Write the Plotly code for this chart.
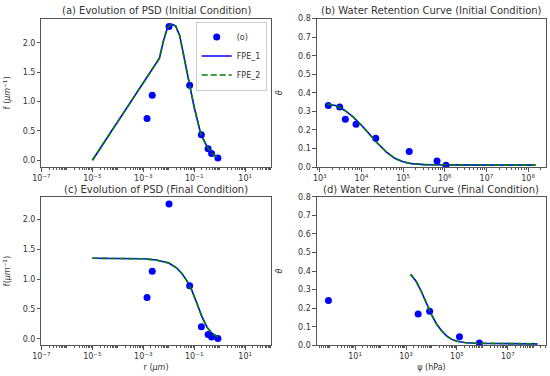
import plotly.graph_objects as go

# ---------------- data ----------------
# PSD observed points (r in micrometres)
r_obs = [1.4e-3, 2.24e-3, 1.02e-2, 0.066, 0.19, 0.35, 0.48, 0.85]
f_obs_init = [0.71, 1.11, 2.28, 1.28, 0.435, 0.195, 0.117, 0.04]
f_obs_final = [0.69, 1.13, 2.26, 0.89, 0.20, 0.07, 0.03, 0.005]

# PSD fitted curves (FPE_1 and FPE_2 coincide)
r_fit_init = [1e-5, 4.3e-3, 6.2e-3, 8.9e-3, 1.29e-2, 1.86e-2, 2.7e-2, 4.2e-2,
              6.6e-2, 0.10, 0.18, 0.32, 0.50, 0.85]
f_fit_init = [0.0, 1.74, 2.04, 2.26, 2.32, 2.29, 2.12, 1.73,
              1.28, 0.90, 0.45, 0.23, 0.12, 0.04]

r_fit_final = [1e-5, 1e-4, 1e-3, 3.2e-3, 1e-2, 2e-2, 3.2e-2, 5e-2,
               7.9e-2, 0.126, 0.2, 0.32, 0.5, 0.85]
f_fit_final = [1.35, 1.345, 1.34, 1.32, 1.27, 1.19, 1.10, 0.98,
               0.82, 0.60, 0.37, 0.19, 0.09, 0.03]

# Water retention observed points (psi in hPa)
psi_obs_init = [1.6e3, 3.0e3, 4.1e3, 7.4e3, 2.2e4, 1.4e5, 6.5e5, 1.07e6]
theta_obs_init = [0.332, 0.324, 0.258, 0.230, 0.155, 0.083, 0.032, 0.009]

psi_obs_final = [0.9, 3.0e3, 8.5e3, 1.26e5, 7.6e5]
theta_obs_final = [0.241, 0.169, 0.183, 0.046, 0.012]

# Water retention fitted curves
psi_fit_init = [1.5e3, 2.5e3, 4e3, 6.3e3, 1e4, 1.58e4, 2.5e4, 4e4, 6.3e4,
                1e5, 1.58e5, 3.2e5, 1e6, 1e7, 1.5e8]
theta_fit_init = [0.340, 0.330, 0.305, 0.270, 0.225, 0.175, 0.125, 0.080, 0.047,
                  0.028, 0.018, 0.013, 0.011, 0.010, 0.010]

psi_fit_final = [1.5e3, 2.5e3, 4e3, 6.3e3, 1e4, 1.58e4, 2.5e4, 4e4, 6.3e4,
                 1e5, 2e5, 5e5, 3.2e6, 1.45e8]
theta_fit_final = [0.383, 0.345, 0.290, 0.225, 0.165, 0.115, 0.078, 0.050, 0.032,
                   0.022, 0.015, 0.011, 0.009, 0.008]

# tick labels
psd_tick_exp = [-7, -5, -3, -1, 1]
wrc_init_tick_exp = [3, 4, 5, 6, 7, 8]
wrc_final_tick_exp = [1, 3, 5, 7]
f_ticks = [0.0, 0.5, 1.0, 1.5, 2.0]
theta_ticks = [0.0, 0.1, 0.2, 0.3, 0.4, 0.5, 0.6, 0.7, 0.8]

titles = ["(a) Evolution of PSD (Initial Condition)",
          "(b) Water Retention Curve (Initial Condition)",
          "(c) Evolution of PSD (Final Condition)",
          "(d) Water Retention Curve (Final Condition)"]

# ---------------- styles ----------------
BLUE = "#0000ff"
GREEN = "#008000"
SPINE = "#555555"
TXT = "#333333"
FONT = "DejaVu Sans"


def exp_text(e):
    s = str(e).replace("-", "\u2212")
    return "10<sup>" + s + "</sup>"


fig = go.Figure()


def add_panel(idx, x_obs, y_obs, x_fit, y_fit, legend=False):
    xa = "x" if idx == 1 else "x%d" % idx
    ya = "y" if idx == 1 else "y%d" % idx
    fig.add_trace(go.Scatter(x=x_obs, y=y_obs, mode="markers", name="(o)",
                             marker=dict(color=BLUE, size=7), xaxis=xa, yaxis=ya,
                             showlegend=legend))
    fig.add_trace(go.Scatter(x=x_fit, y=y_fit, mode="lines", name="FPE_1",
                             line=dict(color=BLUE, width=1.6), xaxis=xa, yaxis=ya,
                             showlegend=legend))
    fig.add_trace(go.Scatter(x=x_fit, y=y_fit, mode="lines", name="FPE_2",
                             line=dict(color=GREEN, width=1.6, dash="6px,3px"),
                             xaxis=xa, yaxis=ya, showlegend=legend))


add_panel(1, r_obs, f_obs_init, r_fit_init, f_fit_init, legend=True)
add_panel(2, psi_obs_init, theta_obs_init, psi_fit_init, theta_fit_init)
add_panel(3, r_obs, f_obs_final, r_fit_final, f_fit_final)
add_panel(4, psi_obs_final, theta_obs_final, psi_fit_final, theta_fit_final)

W, H = 550, 376
left_dom = [33 / W, 266 / W]
right_dom = [313 / W, 546 / W]
top_dom = [1 - 167 / H, 1 - 15 / H]
bot_dom = [1 - 349.7 / H, 1 - 197.5 / H]

axis_common = dict(showline=True, linecolor=SPINE, linewidth=1, mirror=True,
                   ticks="outside", ticklen=3.5, tickcolor=SPINE, showgrid=False,
                   zeroline=False, tickfont=dict(size=8, color=TXT, family=FONT))


def xlog(domain, rng, exps, anchor, title=None):
    d = dict(axis_common, type="log", domain=domain, range=rng, anchor=anchor,
             tickvals=[10.0 ** e for e in exps], ticktext=[exp_text(e) for e in exps],
             minor=dict(ticks="outside", ticklen=2, tickcolor=SPINE, dtick="D1", showgrid=False))
    if title:
        d["title"] = dict(text=title, font=dict(size=8, color=TXT, family=FONT), standoff=3)
    return d


def ylin(domain, rng, ticks, anchor, title, standoff):
    return dict(axis_common, domain=domain, range=rng, anchor=anchor,
                tickvals=ticks, ticktext=["%.1f" % t for t in ticks],
                title=dict(text=title, font=dict(size=8, color=TXT, family=FONT),
                           standoff=standoff))


fig.update_layout(
    width=W, height=H, margin=dict(l=0, r=0, t=0, b=0),
    paper_bgcolor="white", plot_bgcolor="white",
    font=dict(family=FONT, color=TXT),
    xaxis=xlog(left_dom, [-7, 2], psd_tick_exp, "y"),
    yaxis=ylin(top_dom, [-0.115, 2.415], f_ticks, "x", "f (<i>μm</i><sup>−1</sup>)", 10),
    xaxis2=xlog(right_dom, [2.93, 8.43], wrc_init_tick_exp, "y2"),
    yaxis2=ylin(top_dom, [0, 0.8], theta_ticks, "x2", "<i>θ</i>", 14),
    xaxis3=xlog(left_dom, [-7, 2], psd_tick_exp, "y3", "r (<i>μm</i>)"),
    yaxis3=ylin(bot_dom, [-0.11, 2.38], f_ticks, "x3", "f(<i>μm</i><sup>−1</sup>)", 10),
    xaxis4=xlog(right_dom, [-0.5, 8.5], wrc_final_tick_exp, "y4", "ψ (hPa)"),
    yaxis4=ylin(bot_dom, [0, 0.8], theta_ticks, "x4", "<i>θ</i>", 14),
    legend=dict(x=262 / W, xanchor="right", y=1 - 18 / H, yanchor="top",
                bgcolor="white", bordercolor="#cccccc", borderwidth=1,
                font=dict(size=8, color=TXT, family=FONT), itemwidth=30,
                tracegroupgap=0),
)

title_pos = [((33 + 266) / 2 / W, 1 - 7 / H), ((313 + 546) / 2 / W, 1 - 7 / H),
             ((33 + 266) / 2 / W, 1 - 190 / H), ((313 + 546) / 2 / W, 1 - 190 / H)]
for t, (x, y) in zip(titles, title_pos):
    fig.add_annotation(text=t, x=x, y=y, xref="paper", yref="paper", showarrow=False,
                       xanchor="center", yanchor="middle",
                       font=dict(size=10, color=TXT, family=FONT))

fig.write_html("out.html",
               config={"displayModeBar": False},
               post_script="document.body.style.margin='0';"
                           "document.body.style.overflow='hidden';")
